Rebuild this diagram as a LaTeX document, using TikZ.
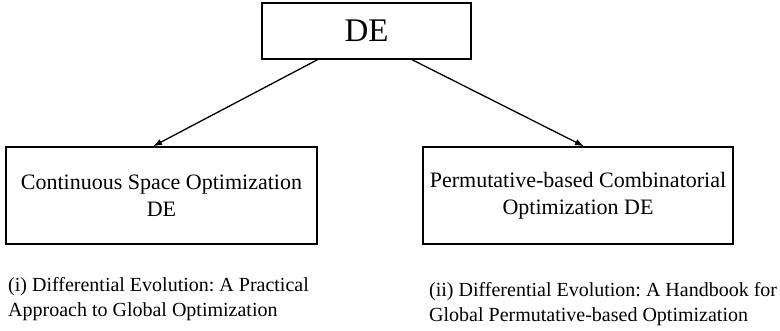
\documentclass[tikz,border=0pt]{standalone}
\usepackage{fontspec}
\setmainfont{Liberation Serif}
\frenchspacing
\usepackage{tikz}
\tikzstyle{box} = [draw, line width=1.4pt, black, inner sep=0pt, align=center]
\tikzstyle{refnote} = [inner sep=0pt, align=left, anchor=base west, font=\fontsize{20}{25}\selectfont]
\tikzstyle{arr} = [-{Latex[length=9pt,width=6.5pt]}, line width=1.3pt]
\usetikzlibrary{arrows.meta,calc}

\begin{document}
\begin{tikzpicture}[x=1pt, y=-1pt]
\useasboundingbox (0,0) rectangle (780,331);

% Nodes
\node[box, minimum width=209pt, minimum height=56pt, font=\fontsize{33}{40}\selectfont] (DE) at (366.5,31) {DE};
\node[box, minimum width=311pt, minimum height=97pt, font=\fontsize{22}{27}\selectfont] (cont) at (161.5,195.5) {Continuous Space Optimization\\DE};
\node[box, minimum width=310pt, minimum height=97pt, font=\fontsize{22}{27}\selectfont] (perm) at (578,195.5) {Permutative-based Combinatorial\\Optimization DE};

% Captions
\node[refnote] (refi) at (8,317) {(i) Differential Evolution: A Practical\\Approach to Global Optimization};
\node[refnote] (refii) at (429,322) {(ii) Differential Evolution: A Handbook for\\Global Permutative-based Optimization};

% Arrows
\draw[arr] ([xshift=-49pt]DE.south) -- ([xshift=-8.5pt]cont.north);
\draw[arr] ([xshift=45.5pt]DE.south) -- ([xshift=6pt]perm.north);

\end{tikzpicture}
\end{document}
